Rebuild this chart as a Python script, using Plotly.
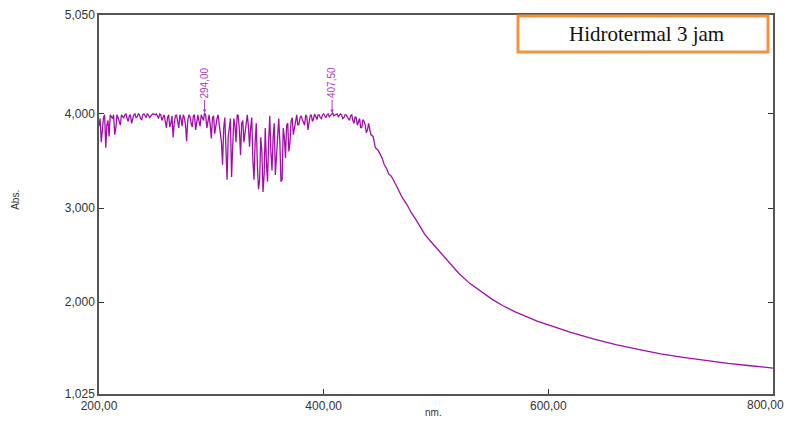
import plotly.graph_objects as go

# ---- data ----
wl_noisy_even = list(range(200, 442, 2))
abs_noisy_even = [
    3870, 3700, 3960, 3640, 3930, 3990, 3950, 3780, 3990, 3930,  # 200-218
    3990, 3960, 4000, 3920, 3990, 3950, 4000, 3970, 3990, 3940,  # 220-238
    4000, 3960, 3990, 3980, 4000, 3990, 3970, 4000, 3930, 3990,  # 240-258
    3850, 3990, 3900, 3750, 3980, 3920, 3990, 3870, 3960, 3710,  # 260-278
    3990, 3900, 3980, 3830, 3990, 3870, 3960, 4010, 3850, 3990,  # 280-298
    3740, 3980, 3880, 3990, 3800, 3460, 3960, 3300, 3880, 3330,  # 300-318
    3950, 3700, 3980, 3560, 3930, 3820, 3990, 3650, 3960, 3300,  # 320-338
    3900, 3200, 3750, 3170, 3850, 3280, 3980, 3400, 3900, 3600,  # 340-358
    3950, 3280, 3850, 3530, 3900, 3700, 3960, 3850, 3990, 3890,  # 360-378
    3980, 3900, 3990, 3830, 3980, 3920, 4000, 3940, 3990, 3950,  # 380-398
    4000, 3960, 4000, 3980, 4010, 3990, 4000, 3980, 3990, 3960,  # 400-418
    3990, 3950, 3980, 3930, 3970, 3880, 3950, 3860, 3920, 3800,  # 420-438
    3900,                                                        # 440
]
wl_noisy_odd = list(range(201, 441, 2))
abs_noisy_odd = [
    3950, 3800, 3990, 3880, 3760, 3970, 3990, 3850, 3960, 3880,  # 201-219
    3970, 3990, 3950, 3980, 3900, 3990, 3960, 4000, 3950, 3990,  # 221-239
    3970, 4000, 3960, 3990, 3990, 4000, 3950, 3990, 3970, 3920,  # 241-259
    3960, 3860, 3980, 3900, 3990, 3850, 3950, 3990, 3880, 3930,  # 261-279
    3970, 3860, 3990, 3950, 3920, 3990, 3930, 3980, 3920, 3880,  # 281-299
    3960, 3790, 3950, 3900, 3700, 3850, 3560, 3750, 3950, 3620,  # 301-319
    3880, 3990, 3820, 3900, 3700, 3940, 3870, 3850, 3500, 3700,  # 321-339
    3450, 3300, 3600, 3350, 3500, 3700, 3600, 3750, 3350, 3800,  # 341-359
    3700, 3300, 3750, 3880, 3600, 3920, 3780, 3950, 3880, 3960,  # 361-379
    3940, 3880, 3970, 3900, 3990, 3950, 3970, 3990, 3960, 3990,  # 381-399
    3980, 3990, 3970, 4000, 3980, 4000, 3970, 4000, 3950, 3990,  # 401-419
    3970, 3930, 3990, 3900, 3960, 3920, 3850, 3940, 3880, 3830,  # 421-439
]
wl_decay = [442, 444, 446, 448, 450, 452, 454, 456, 458, 460, 462, 464, 466,
            468, 470, 474, 478, 482, 486, 490, 495, 500, 510, 520, 530, 540,
            550, 560, 570, 580, 590, 600, 620, 640, 660, 680, 700, 720, 740,
            760, 780, 800]
abs_decay = [3780, 3760, 3640, 3620, 3580, 3530, 3460, 3420, 3360, 3340, 3300,
             3250, 3200, 3160, 3110, 3040, 2950, 2880, 2800, 2720, 2650, 2580,
             2440, 2310, 2200, 2110, 2030, 1960, 1900, 1850, 1800, 1760, 1680,
             1610, 1550, 1500, 1450, 1415, 1380, 1350, 1325, 1300]

pairs = sorted(zip(wl_noisy_even + wl_noisy_odd + wl_decay,
                   abs_noisy_even + abs_noisy_odd + abs_decay))
wavelength = [p[0] for p in pairs]
absorbance = [p[1] for p in pairs]

x_ticks = [200, 400, 600, 800]
x_ticktext = ["200,00", "400,00", "600,00", ""]
x_last_label = "800,00"
y_ticks = [1025, 2000, 3000, 4000, 5050]
y_ticktext = ["1,025", "2,000", "3,000", "4,000", "5,050"]

peaks_x = [294.0, 407.5]
peaks_y = [4010, 4010]
peak_labels = ["294,00", "407,50"]
legend_text = "Hidrotermal 3 jam"

LINE = "#A010A8"
PEAK = "#B03CC0"
TXT = "#333"

# plot-area geometry in pixels (for paper-coordinate decorations)
L, R, T, B = 99, 773, 15, 394.3
PW, PH = R - L, B - T


def px(x):
    return (x - L) / PW


def py(y):
    return (B - y) / PH


fig = go.Figure()
fig.add_trace(go.Scatter(x=wavelength, y=absorbance, mode="lines",
                         line=dict(color=LINE, width=1.3), showlegend=False,
                         hoverinfo="skip"))

for xv, yv, lab in zip(peaks_x, peaks_y, peak_labels):
    fig.add_annotation(x=xv, y=yv, xref="x", yref="y", text=lab,
                       textangle=-90, showarrow=True, arrowhead=2,
                       arrowsize=0.7, arrowwidth=1, arrowcolor=PEAK,
                       ax=0, ay=-30, font=dict(family="Liberation Sans",
                                               size=10, color=PEAK))

fig.add_shape(type="rect", xref="paper", yref="paper",
              x0=px(518), x1=px(768), y0=py(52), y1=py(16),
              line=dict(color="#F5923E", width=3), fillcolor="white",
              layer="above")
fig.add_annotation(xref="paper", yref="paper", x=px(646), y=py(34),
                   xanchor="center", yanchor="middle",
                   text=legend_text, showarrow=False,
                   font=dict(family="Liberation Serif", size=21, color="#111"))

# last x tick label, kept inside the page
fig.add_annotation(xref="paper", yref="paper", x=px(786), y=py(405),
                   xanchor="right", yanchor="middle",
                   text=x_last_label, showarrow=False,
                   font=dict(family="Liberation Sans", size=12, color=TXT))

fig.add_annotation(xref="paper", yref="paper", x=px(433), y=py(413),
                   xanchor="center", yanchor="middle",
                   text="nm.", showarrow=False,
                   font=dict(family="Liberation Sans", size=10, color=TXT))
fig.add_annotation(xref="paper", yref="paper", x=px(16), y=py(200),
                   xanchor="center", yanchor="middle",
                   text="Abs.", showarrow=False, textangle=-90,
                   font=dict(family="Liberation Sans", size=10, color=TXT))

fig.update_xaxes(range=[200, 800], tickvals=x_ticks, ticktext=x_ticktext,
                 showgrid=False, zeroline=False, showline=True,
                 linecolor="#555", linewidth=1.5, mirror=True,
                 ticks="inside", ticklen=5, tickcolor="#333",
                 automargin=False, ticklabeloverflow="allow",
                 tickfont=dict(family="Liberation Sans", size=12, color=TXT))
fig.update_yaxes(range=[1025, 5050], tickvals=y_ticks, ticktext=y_ticktext,
                 showgrid=False, zeroline=False, showline=True,
                 linecolor="#555", linewidth=1.5, mirror="ticks",
                 ticks="inside", ticklen=5, tickcolor="#333",
                 automargin=False, ticklabeloverflow="allow",
                 tickfont=dict(family="Liberation Sans", size=12, color=TXT))

fig.update_layout(width=787, height=421,
                  margin=dict(l=L, r=787 - R, t=T, b=421 - B, pad=0,
                              autoexpand=False),
                  paper_bgcolor="white", plot_bgcolor="white")

fig.write_html("out.html", config={"displayModeBar": False},
               post_script="document.body.style.margin='0px';"
                           "document.body.style.overflow='hidden';")
